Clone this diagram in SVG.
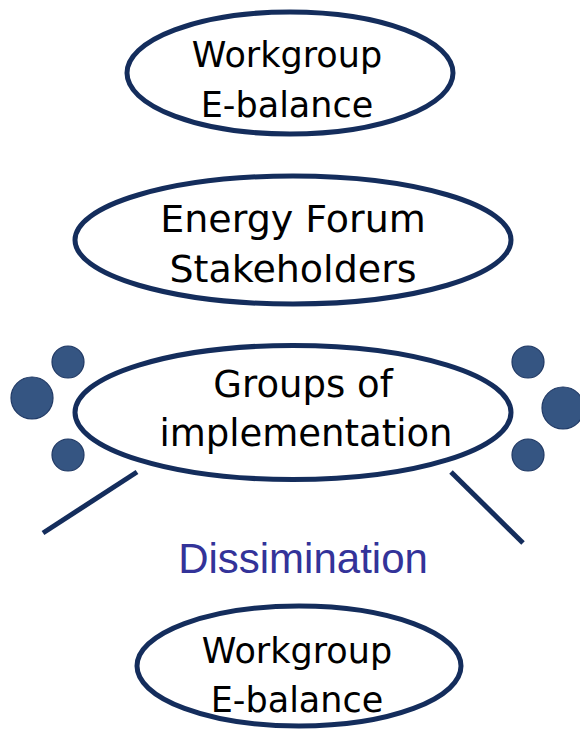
<svg xmlns="http://www.w3.org/2000/svg" width="580" height="731" viewBox="0 0 580 731">
<style>
.oval{fill:#ffffff;stroke:#142d5c;stroke-width:5}
.dot{fill:#355582;stroke:#1f3864;stroke-width:1.2}
.t{font-family:"DejaVu Sans","Liberation Sans",sans-serif;fill:#000000;text-anchor:middle}
.link{stroke:#142d5c;stroke-width:5;fill:none}
</style>
<rect width="580" height="731" fill="#ffffff"/>
<g id="workgroup-top">
<ellipse class="oval" cx="290" cy="73" rx="163" ry="61"/>
<text class="t" x="287" y="67" font-size="35">Workgroup</text>
<text class="t" x="287" y="117" font-size="35">E-balance</text>
</g>
<g id="energy-forum">
<ellipse class="oval" cx="293" cy="240" rx="218" ry="64"/>
<text class="t" x="293" y="232" font-size="38">Energy Forum</text>
<text class="t" x="293" y="282" font-size="38">Stakeholders</text>
</g>
<g id="dots">
<circle class="dot" cx="68" cy="362" r="16"/>
<circle class="dot" cx="32" cy="398" r="21"/>
<circle class="dot" cx="68" cy="455" r="16"/>
<circle class="dot" cx="528" cy="362" r="16"/>
<circle class="dot" cx="563" cy="408" r="21"/>
<circle class="dot" cx="528" cy="455" r="16"/>
</g>
<g id="groups-implementation">
<ellipse class="oval" cx="293" cy="412.5" rx="218" ry="67"/>
<text class="t" x="303" y="397" font-size="37">Groups of</text>
<text class="t" x="306" y="446" font-size="37">implementation</text>
</g>
<g id="connectors">
<line class="link" x1="137" y1="472" x2="43" y2="533"/>
<line class="link" x1="451" y1="472" x2="523" y2="543"/>
</g>
<g id="dissimination">
<text x="303" y="573" font-family="Liberation Sans, Arial, sans-serif" font-size="42" fill="#333399" text-anchor="middle">Dissimination</text>
</g>
<g id="workgroup-bottom">
<ellipse class="oval" cx="299" cy="666" rx="162" ry="60"/>
<text class="t" x="297" y="663" font-size="35">Workgroup</text>
<text class="t" x="297" y="712" font-size="35">E-balance</text>
</g>
</svg>
